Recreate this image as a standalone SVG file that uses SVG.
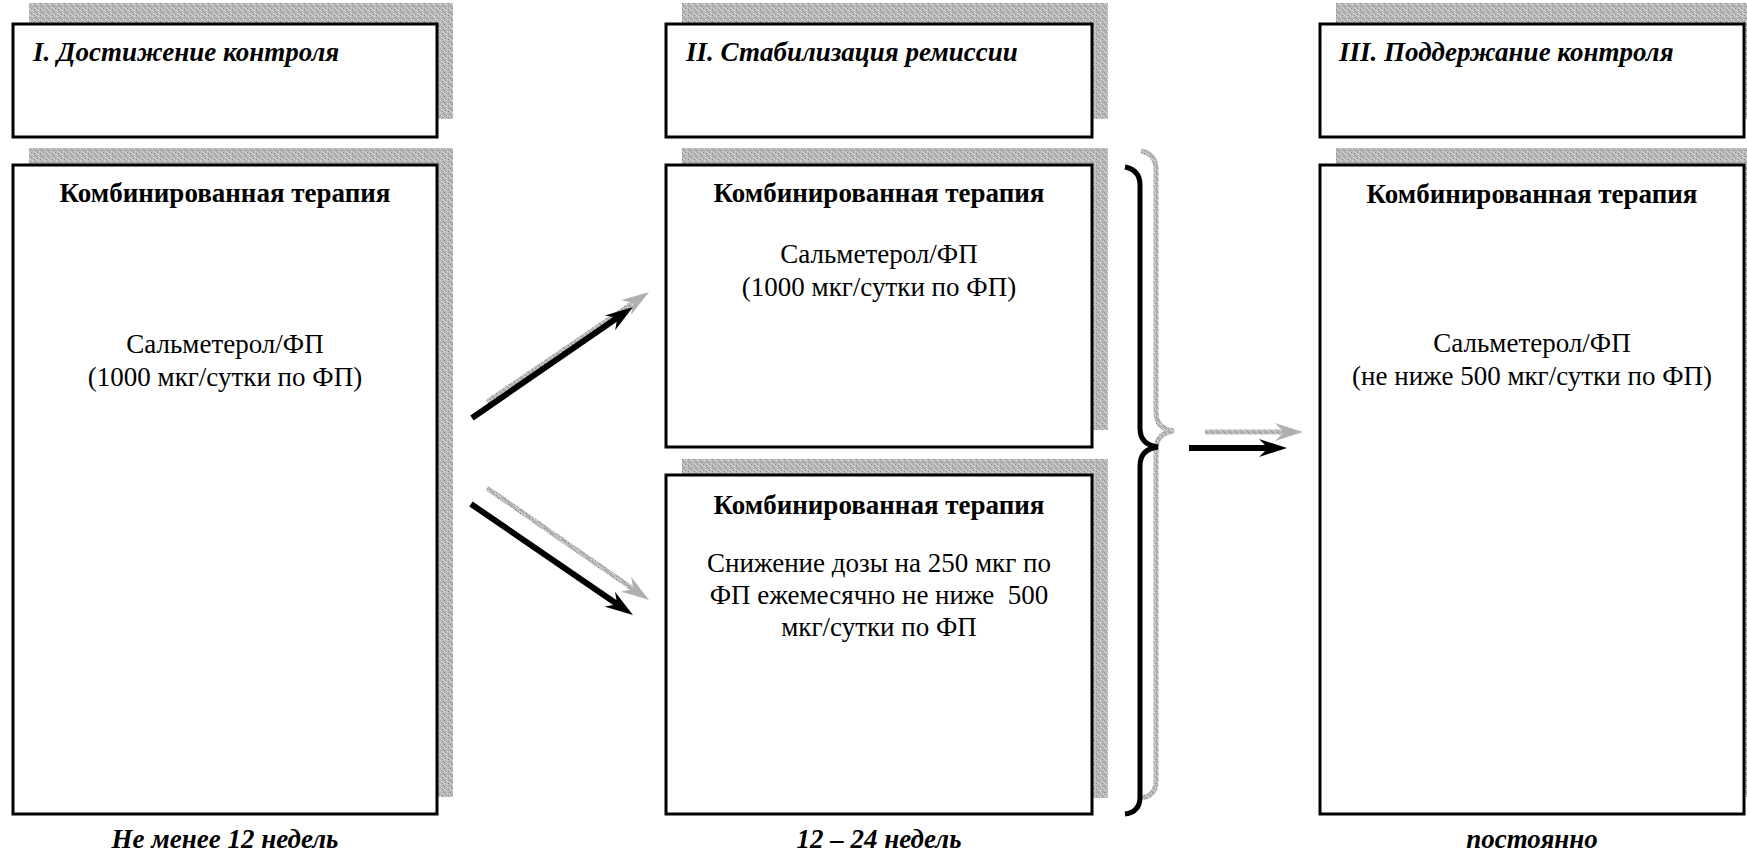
<svg xmlns="http://www.w3.org/2000/svg" width="1747" height="855" viewBox="0 0 1747 855">
<defs>
<pattern id="noise" width="6" height="6" patternUnits="userSpaceOnUse">
<rect width="6" height="6" fill="#bababa"/>
<rect x="0" y="0" width="1" height="1" fill="#8a8a8a"/>
<rect x="3" y="1" width="1" height="1" fill="#e6e6e6"/>
<rect x="1" y="2" width="1" height="1" fill="#999"/>
<rect x="4" y="3" width="1" height="1" fill="#808080"/>
<rect x="2" y="4" width="1" height="1" fill="#e0e0e0"/>
<rect x="5" y="5" width="1" height="1" fill="#9a9a9a"/>
<rect x="0" y="3" width="1" height="1" fill="#ddd"/>
<rect x="4" y="0" width="1" height="1" fill="#a5a5a5"/>
<rect x="2" y="1" width="1" height="1" fill="#a0a0a0"/>
<rect x="5" y="2" width="1" height="1" fill="#d8d8d8"/>
</pattern>
<marker id="headB" viewBox="0 0 28 18" refX="9" refY="9" markerWidth="28" markerHeight="18" markerUnits="userSpaceOnUse" orient="auto">
<path d="M0,0 L28,9 L0,18 L9,9 Z" fill="#000"/>
</marker>
<marker id="headG" viewBox="0 0 28 18" refX="9" refY="9" markerWidth="28" markerHeight="18" markerUnits="userSpaceOnUse" orient="auto">
<path d="M0,0 L28,9 L0,18 L9,9 Z" fill="#b0b0b0"/>
</marker>
<style>
.sh{fill:url(#noise)}
.bx{fill:#fff;stroke:#000;stroke-width:3}
.t{font-family:"Liberation Serif",LiberationSerif,"Times New Roman",Times,"DejaVu Serif","Noto Serif",FreeSerif,serif;font-size:27px;fill:#000}
.b{font-weight:bold}
.bi{font-weight:bold;font-style:italic}
.c{text-anchor:middle}
.arB{stroke:#000;stroke-width:6;fill:none;marker-end:url(#headB)}
.arG{stroke:url(#noise);stroke-width:5;fill:none;marker-end:url(#headG)}
.brB{stroke:#000;stroke-width:5;fill:none}
.brG{stroke:url(#noise);stroke-width:5;fill:none}
</style>
</defs>
<rect width="1747" height="855" fill="#fff"/>

<g id="header1">
<rect class="sh" x="29" y="3" width="424" height="116"/>
<rect class="bx" x="13" y="24" width="424" height="113"/>
<text class="t bi" x="33" y="61">I. Достижение контроля</text>
</g>
<g id="header2">
<rect class="sh" x="682" y="3" width="426" height="116"/>
<rect class="bx" x="666" y="24" width="426" height="113"/>
<text class="t bi" x="686" y="61">II. Стабилизация ремиссии</text>
</g>
<g id="header3">
<rect class="sh" x="1336" y="3" width="424" height="116"/>
<rect class="bx" x="1320" y="24" width="424" height="113"/>
<text class="t bi" x="1339" y="61">III. Поддержание контроля</text>
</g>

<g id="box1">
<rect class="sh" x="29" y="148" width="424" height="649"/>
<rect class="bx" x="13" y="165" width="424" height="649"/>
<text class="t b c" x="225" y="202">Комбинированная терапия</text>
<text class="t c" x="225" y="353">Сальметерол/ФП</text>
<text class="t c" x="225" y="386">(1000 мкг/сутки по ФП)</text>
</g>
<g id="box2a">
<rect class="sh" x="682" y="148" width="426" height="282"/>
<rect class="bx" x="666" y="165" width="426" height="282"/>
<text class="t b c" x="879" y="202">Комбинированная терапия</text>
<text class="t c" x="879" y="263">Сальметерол/ФП</text>
<text class="t c" x="879" y="296">(1000 мкг/сутки по ФП)</text>
</g>
<g id="box2b">
<rect class="sh" x="682" y="459" width="426" height="339"/>
<rect class="bx" x="666" y="475" width="426" height="339"/>
<text class="t b c" x="879" y="514">Комбинированная терапия</text>
<text class="t c" x="879" y="572">Снижение дозы на 250 мкг по</text>
<text class="t c" x="879" y="604" xml:space="preserve" style="white-space:pre">ФП ежемесячно не ниже  500</text>
<text class="t c" x="879" y="636">мкг/сутки по ФП</text>
</g>
<g id="box3">
<rect class="sh" x="1336" y="148" width="424" height="649"/>
<rect class="bx" x="1320" y="165" width="424" height="649"/>
<text class="t b c" x="1532" y="203">Комбинированная терапия</text>
<text class="t c" x="1532" y="352">Сальметерол/ФП</text>
<text class="t c" x="1532" y="385">(не ниже 500 мкг/сутки по ФП)</text>
</g>

<g id="labels">
<text class="t bi c" x="225" y="848">Не менее 12 недель</text>
<text class="t bi c" x="879" y="848">12 – 24 недель</text>
<text class="t bi c" x="1532" y="848">постоянно</text>
</g>

<g id="connectors">
<line class="arG" x1="487" y1="402" x2="633.3" y2="302.7"/>
<line class="arB" x1="472" y1="418" x2="617.4" y2="317.8"/>
<line class="arG" x1="487" y1="488" x2="633.4" y2="589.2"/>
<line class="arB" x1="471" y1="504" x2="617.3" y2="604.3"/>
<path class="brG" d="M1141,151 Q1156,154 1156,169 L1156,412 Q1156,429 1174,431 Q1156,433 1156,450 L1156,781 Q1156,796 1141,798"/>
<path class="brB" d="M1125,167 Q1140,170 1140,185 L1140,428 Q1140,445 1158,447 Q1140,449 1140,466 L1140,797 Q1140,812 1125,814"/>
<line class="arG" x1="1205" y1="432" x2="1284" y2="432"/>
<line class="arB" x1="1189" y1="448" x2="1268" y2="448"/>
</g>
</svg>
